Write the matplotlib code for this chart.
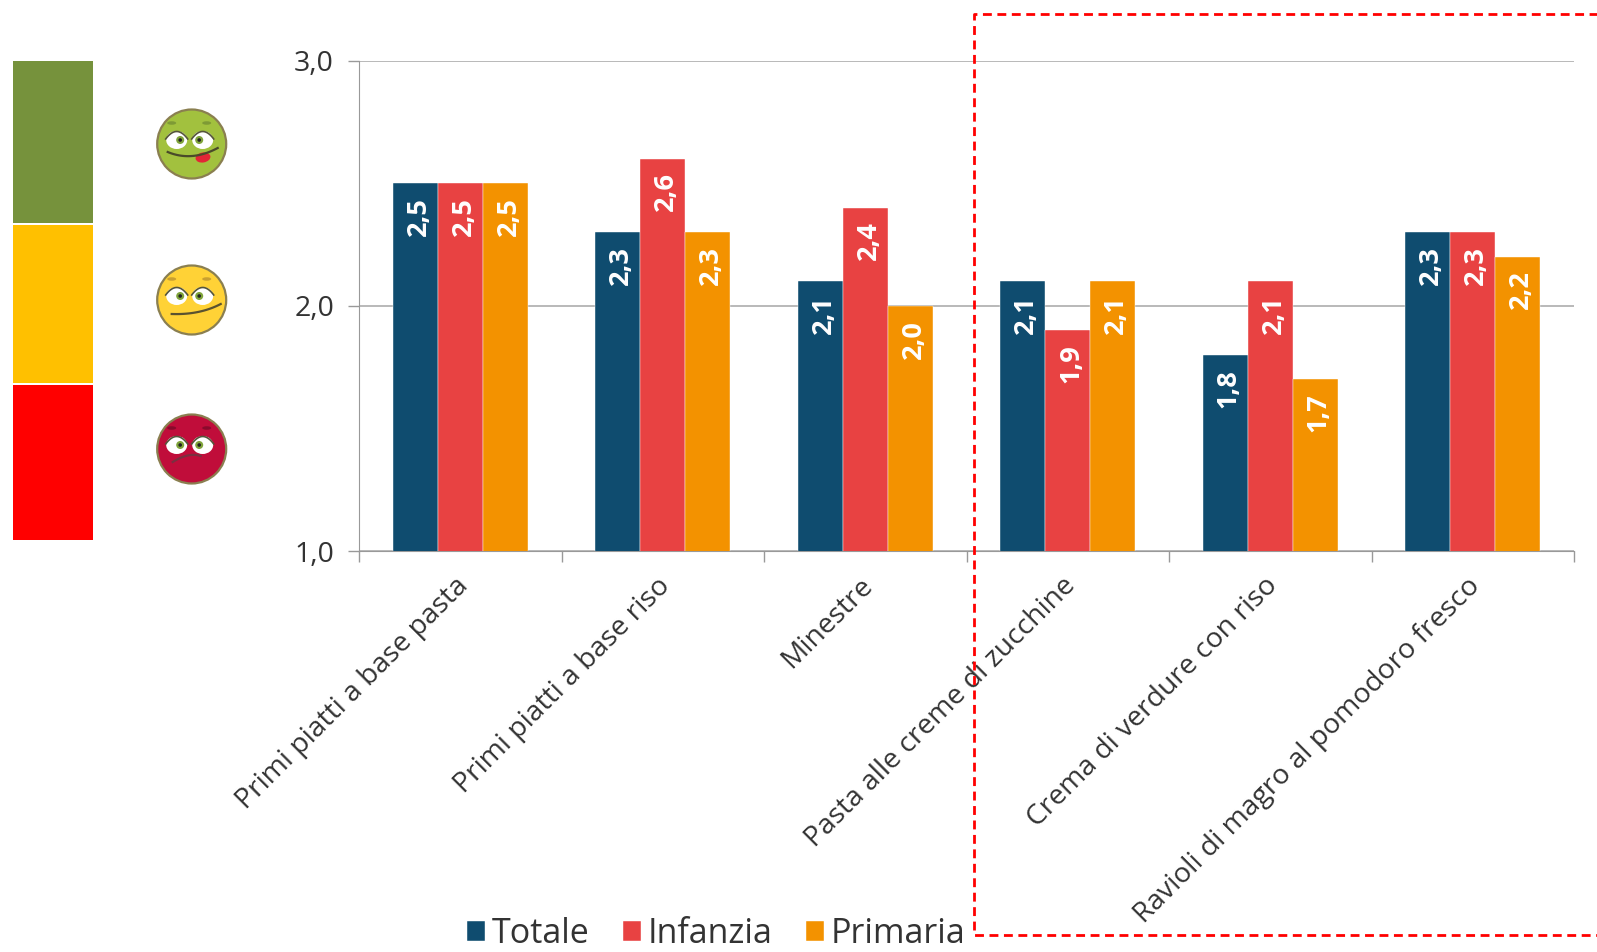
import matplotlib.pyplot as plt
from matplotlib.patches import Circle, Ellipse, Rectangle
import numpy as np

categories = ['Primi piatti a base pasta', 'Primi piatti a base riso', 'Minestre',
              'Pasta alle creme di zucchine', 'Crema di verdure con riso',
              'Ravioli di magro al pomodoro fresco']
totale = [2.5, 2.3, 2.1, 2.1, 1.8, 2.3]
infanzia = [2.5, 2.6, 2.4, 1.9, 2.1, 2.3]
primaria = [2.5, 2.3, 2.0, 2.1, 1.7, 2.2]
series_names = ['Totale', 'Infanzia', 'Primaria']
colors = ['#0F4C6F', '#E84242', '#F39200']
text_col = '#333333'

W, H = 1597, 952
plt.rcParams['font.family'] = ['Open Sans', 'DejaVu Sans']

fig = plt.figure(figsize=(W / 100, H / 100), dpi=100)
ax = fig.add_axes([359 / W, 1 - 551 / H, (1574 - 359) / W, (551 - 60.5) / H])

x = np.arange(len(categories))
width = 0.2224
for i, vals in enumerate([totale, infanzia, primaria]):
    pos = x + (i - 1) * width
    ax.bar(pos, vals, width, color=colors[i], label=series_names[i], zorder=3,
           edgecolor='white', linewidth=0.3)
    for p, v in zip(pos, vals):
        # labels sit inside the top of the bar
        ax.annotate(f'{v:.1f}'.replace('.', ','), (p, v), xytext=(2.5, -10), textcoords='offset points',
                    rotation=90, ha='center', va='top', color='white', fontsize=19.5,
                    fontweight='bold', zorder=4)

ax.set_xlim(-0.5, len(categories) - 0.5)
ax.set_ylim(1, 3)
ax.set_yticks([1, 2, 3])
ax.set_yticklabels(['1,0', '2,0', '3,0'], fontsize=20.5, color=text_col)
ax.yaxis.grid(True, color='#A6A6A6', linewidth=1.1, zorder=1)
ax.set_axisbelow(True)

ax.set_xticks(np.arange(len(categories) + 1) - 0.5)
ax.set_xticklabels([])
ax.tick_params(axis='both', length=8, width=1, color='#999999')
ax.tick_params(axis='y', pad=10)
for s in ['top', 'right']:
    ax.spines[s].set_visible(False)
for s in ['left', 'bottom']:
    ax.spines[s].set_color('#999999')

for i, name in enumerate(categories):
    ax.annotate(name, (i, 1), xytext=(-4.5, -15), textcoords='offset points', rotation=45,
                rotation_mode='anchor', ha='right', va='top', fontsize=20.3, color=text_col)

fig.legend(loc='lower left', bbox_to_anchor=(436 / W, -30 / H), ncol=3, frameon=False, fontsize=24.5,
           handlelength=0.53, handleheight=0.53, handletextpad=0.2, columnspacing=0.98,
           labelcolor=text_col)

# overlay in pixel coordinates for the colour scale, faces and dashed box
ov = fig.add_axes([0, 0, 1, 1], zorder=5)
ov.set_xlim(0, W)
ov.set_ylim(H, 0)
ov.axis('off')
ov.patch.set_alpha(0)

ov.add_patch(Rectangle((13, 61), 80, 162, color='#76923C', lw=0))
ov.add_patch(Rectangle((13, 225), 80, 158, color='#FFC000', lw=0))
ov.add_patch(Rectangle((13, 385), 80, 155, color='#FF0000', lw=0))


def curve(p0, p1, p2):
    t = np.linspace(0, 1, 30)
    xs = (1 - t) ** 2 * p0[0] + 2 * t * (1 - t) * p1[0] + t ** 2 * p2[0]
    ys = (1 - t) ** 2 * p0[1] + 2 * t * (1 - t) * p1[1] + t ** 2 * p2[1]
    return xs, ys


def face(cx, cy, fill, brow, mouth, mouth_col):
    ov.add_patch(Circle((cx, cy), 34.5, facecolor=fill, edgecolor='#8A7F50', lw=1.6))
    for ex, px, bx in ((-15, -11.5, -20), (11, 7.5, 15)):
        ov.add_patch(Ellipse((cx + ex, cy - 4), 21, 18, color='white', lw=0))
        ov.add_patch(Circle((cx + px, cy - 4), 4, color='#7FA33A', lw=0))
        ov.add_patch(Circle((cx + px, cy - 4), 1.8, color='#222222', lw=0))
        lx, ly = curve((cx + ex - 11, cy - 5), (cx + ex, cy - 20), (cx + ex + 11, cy - 5))
        ov.plot(lx, ly, color='#55553A', lw=1.2)
        ov.add_patch(Ellipse((cx + bx, cy - 21), 9, 3.5, color=brow, lw=0))
    mx, my = curve(*[(cx + a, cy + b) for a, b in mouth])
    ov.plot(mx, my, color=mouth_col, lw=1.6)


face(191.7, 144, '#A2C13E', '#7E9A35', [(-24, 8), (0, 18), (26, 4)], '#4A4A2A')
ov.add_patch(Ellipse((203, 157.5), 15, 10, angle=-10, color='#E32636', lw=0))
face(191.7, 300, '#FFD236', '#C9A030', [(-20, 14), (8, 15), (29, 4)], '#5A5230')
face(191.7, 449, '#C00D3A', '#8A0A2C', [(-19, 13), (-3, 3), (9, 7)], '#7A3040')

ov.plot([1600, 973.5, 973.5, 1600], [14, 14, 935, 935], color='#FF0000', lw=2, linestyle=(0, (3.2, 2)),
        clip_on=True)

plt.savefig('out.png', dpi=100)
